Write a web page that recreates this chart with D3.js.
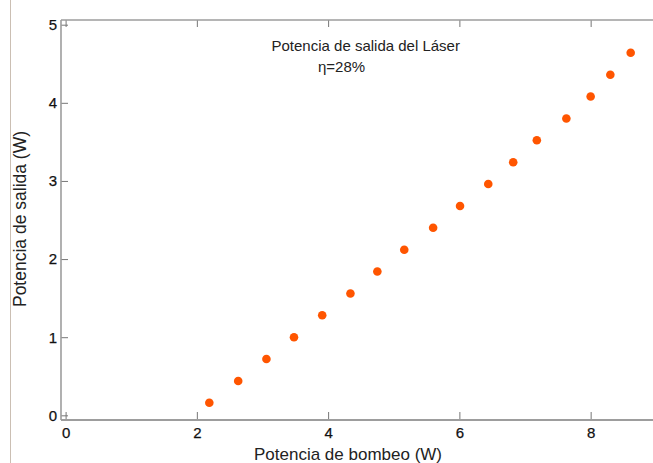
<!DOCTYPE html>
<html>
<head>
<meta charset="utf-8">
<script src="https://cdn.jsdelivr.net/npm/d3@7"></script>
<style>
  html, body { margin: 0; padding: 0; background: #fff; }
  svg { display: block; font-family: "Liberation Sans", Arial, Helvetica, sans-serif; }
</style>
</head>
<body>
<svg id="chart" width="653" height="463"></svg>
<script>
// Data
const pumpPower = [2.19, 2.63, 3.06, 3.48, 3.91, 4.34, 4.75, 5.16, 5.60, 6.01, 6.44, 6.82, 7.18, 7.63, 8.00, 8.30, 8.61];
const outputPower = [0.16, 0.44, 0.72, 1.00, 1.28, 1.56, 1.84, 2.12, 2.40, 2.68, 2.96, 3.24, 3.52, 3.80, 4.08, 4.36, 4.64];
const xTicks = [0, 2, 4, 6, 8];
const yTicks = [0, 1, 2, 3, 4, 5];
const xLabel = "Potencia de bombeo (W)";
const yLabel = "Potencia de salida (W)";
const titleText = "Potencia de salida del Láser";
const etaText = "η=28%";

(function () {
const svg = d3.select("#chart");
const mLeft = 61, mRight = 653, mTop = 20, mBottom = 420;
const axisColor = "#9d9d9d";

const x = d3.scaleLinear().domain([-0.07, 8.95]).range([mLeft, mRight]);
const y = d3.scaleLinear().domain([-0.06, 5.06]).range([mBottom, mTop]);

// thin vertical line at left edge
svg.append("line").attr("x1", 10.5).attr("x2", 10.5).attr("y1", 0).attr("y2", 463)
  .attr("stroke", "#cbbfb3").attr("stroke-width", 1);

// bottom axis
const gx = svg.append("g").attr("transform", `translate(0,${mBottom})`)
  .call(d3.axisBottom(x).tickValues(xTicks).tickSize(-8).tickPadding(7).tickFormat(d3.format("d")));
// left axis
const gy = svg.append("g").attr("transform", `translate(${mLeft},0)`)
  .call(d3.axisLeft(y).tickValues(yTicks).tickSize(-7).tickPadding(4).tickFormat(d3.format("d")));
// top axis (ticks only)
const gt = svg.append("g").attr("transform", `translate(0,${mTop})`)
  .call(d3.axisTop(x).tickValues(xTicks).tickSize(-7).tickFormat(""));

[gx, gy, gt].forEach(g => {
  g.select(".domain").remove();
  g.selectAll(".tick line").attr("stroke", "#777").attr("stroke-width", 1);
  g.selectAll(".tick text").attr("fill", "#111").style("font-size", "15px")
    .style("font-family", "\"Liberation Sans\", Arial, sans-serif")
    .attr("stroke", "#111").attr("stroke-width", 0.25);
});

// frame lines
svg.append("line").attr("x1", mLeft).attr("x2", mRight).attr("y1", mTop).attr("y2", mTop)
  .attr("stroke", axisColor).attr("stroke-width", 1.6);
svg.append("line").attr("x1", mLeft).attr("x2", mRight).attr("y1", mBottom).attr("y2", mBottom)
  .attr("stroke", axisColor).attr("stroke-width", 2);
svg.append("line").attr("x1", mLeft).attr("x2", mLeft).attr("y1", mTop).attr("y2", mBottom)
  .attr("stroke", axisColor).attr("stroke-width", 1.6);

// points
svg.append("g").selectAll("circle")
  .data(pumpPower.map((v, i) => [v, outputPower[i]]))
  .join("circle")
  .attr("cx", d => x(d[0]))
  .attr("cy", d => y(d[1]))
  .attr("r", 4.3)
  .attr("fill", "#ff5500");

// annotations
svg.append("text").attr("x", 271.5).attr("y", 51).attr("fill", "#222")
  .style("font-size", "15px").text(titleText);
svg.append("text").attr("x", 318).attr("y", 72).attr("fill", "#222")
  .style("font-size", "15px").text(etaText);

// axis labels
svg.append("text").attr("x", 348).attr("y", 460).attr("text-anchor", "middle")
  .attr("fill", "#222").style("font-size", "17px").text(xLabel);
svg.append("text").attr("transform", "translate(26,219) rotate(-90)").attr("text-anchor", "middle")
  .attr("fill", "#222").style("font-size", "17.5px").text(yLabel);
})();
</script>
</body>
</html>
